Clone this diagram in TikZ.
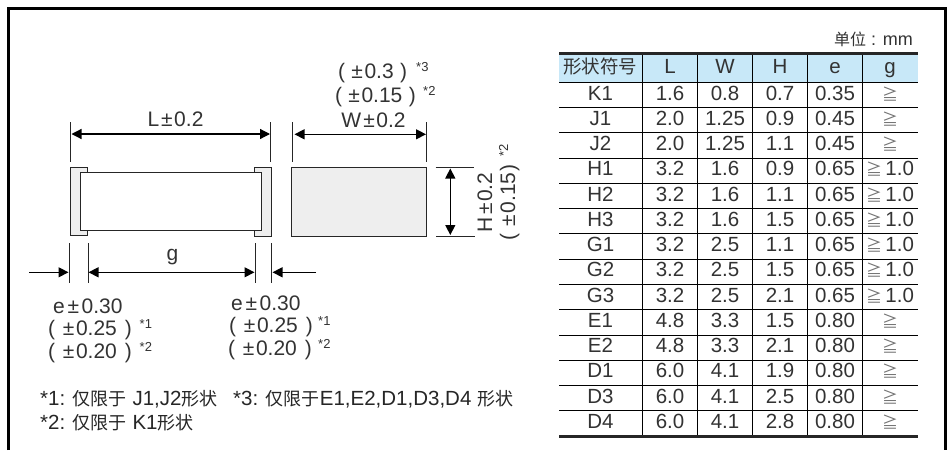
\documentclass[tikz,border=0pt]{standalone}
\usepackage{fontspec}
\setmainfont{Liberation Sans}
\newfontfamily\cjk{Noto Sans CJK SC}
\usetikzlibrary{arrows.meta}
\definecolor{txt}{HTML}{333333}
\definecolor{capfill}{HTML}{EEEEEE}
\definecolor{head}{HTML}{C8E8F8}
\newcommand{\fs}[1]{\fontsize{#1}{#1}\selectfont}
\newcommand{\geA}{{\cjk\fs{16}\color{black!55}≧}}
\newcommand{\geB}{{\cjk\fs{16}\color{black!55}≧}\,1.0}
\newcommand{\pmn}[1]{±\kern1.5pt #1}
\newcommand{\cj}[1]{{\cjk\fs{18}#1}}
\tikzset{
  x=1pt,y=-1pt,
  part/.style={draw=black!85,line width=1pt,fill=capfill},
  body/.style={draw=black!85,line width=1pt,fill=white},
  ext/.style={draw=black!85,line width=0.8pt},
  dim/.style={draw=black,line width=1.2pt,{Triangle[length=10pt,width=10pt]}-{Triangle[length=10pt,width=10pt]}},
  dimin/.style={draw=black,line width=1.2pt,-{Triangle[length=10pt,width=10pt]}},
  lab/.style={inner sep=0pt,outer sep=0pt,text=txt,font=\fs{21},anchor=base},
  labw/.style={lab,anchor=base west},
  sm/.style={inner sep=0pt,text=txt,font=\fs{13},anchor=base west},
  note/.style={inner sep=0pt,text=black!85,font=\fs{20.5},anchor=base west},
  cell/.style={inner sep=0pt,text=txt,font=\fs{20.5},anchor=base},
  grid/.style={draw=black,line width=0.9pt},
  thick rule/.style={draw=black!85,line width=3pt},
}
\begin{document}
\begin{tikzpicture}
\useasboundingbox (0,0) rectangle (952,450);
\fill[white] (0,0) rectangle (952,450);
% frame
\draw[black,line width=3pt] (8.5,450) -- (8.5,8.5) -- (945,8.5) -- (945,450);

% front view
\draw[part] (70.3,167) rectangle (87.7,235.7);
\draw[part] (254,167.7) rectangle (271.3,236.3);
\draw[body] (80.3,172.7) rectangle (261.3,230.3);
% side view
\draw[part] (291.7,167.3) rectangle (426.7,236);

% extension lines
\draw[ext] (70.7,122) -- (70.7,162);
\draw[ext] (270.7,122) -- (270.7,162);
\draw[ext] (292.7,122) -- (292.7,162);
\draw[ext] (426.7,122) -- (426.7,162);
\draw[ext] (435.7,167.3) -- (474,167.3);
\draw[ext] (436,236.7) -- (474.7,236.7);
\draw[ext] (69,243) -- (69,283);
\draw[ext] (88,243) -- (88,283);
\draw[ext] (255,243) -- (255,283);
\draw[ext] (271,243) -- (271,283);

% dimension arrows
\draw[dim] (71.5,134) -- (270,134);
\draw[dim] (294.5,134.3) -- (426,134.3);
\draw[dim] (450.3,168.5) -- (450.3,235);
\draw[dim] (88.5,272.3) -- (254.5,272.3);
\draw[dimin] (29,272.3) -- (68.5,272.3);
\draw[dimin] (316,272.3) -- (272.5,272.3);

% dimension labels
\node[lab] (lL) at (175.5,126) {L\kern2pt\pmn{0.2}};
\node[lab] (lW) at (373.5,127) {W\kern2pt\pmn{0.2}};
\node[labw] (lW2) at (335,102) {(\kern6.5pt\pmn{0.15}\kern6.5pt)};
\node[sm] (sW2) at (423,95) {*2};
\node[labw] (lW3) at (338,78) {(\kern6.5pt\pmn{0.3}\kern6.5pt)};
\node[sm] (sW3) at (416,71) {*3};
\node[lab] (lg) at (172.5,260) {g};

\node[labw,rotate=90] (lH) at (492,232) {H\kern2pt\pmn{0.2}};
\node[labw,rotate=90] (lH2) at (515,240) {(\kern6.5pt\pmn{0.15}\kern1pt)};
\node[sm,rotate=90] (sH2) at (508,157) {*2};

\node[labw] (e1a) at (53,313) {e\kern3pt±\kern2.5pt 0.30};
\node[labw] (e1b) at (48,335) {(\kern8pt\pmn{0.25}\kern8pt)};
\node[sm] (e1c) at (139.5,328) {*1};
\node[labw] (e1d) at (48,358) {(\kern8pt\pmn{0.20}\kern8pt)};
\node[sm] (e1e) at (139.5,351) {*2};

\node[labw] (e2a) at (231,310) {e\kern3pt±\kern2.5pt 0.30};
\node[labw] (e2b) at (229,332) {(\kern8pt\pmn{0.25}\kern8pt)};
\node[sm] (e2c) at (318,325) {*1};
\node[labw] (e2d) at (228,355) {(\kern8pt\pmn{0.20}\kern8pt)};
\node[sm] (e2e) at (318,348) {*2};

% notes
\node[note] (n1) at (40,405) {*1: \cj{仅限于} J1,J2\cj{形状}};
\node[note] (n3) at (233,405) {*3: \cj{仅限于}E1,E2,D1,D3,D4 \cj{形状}};
\node[note] (n2) at (40,429) {*2: \cj{仅限于} K1\cj{形状}};

% unit
\node[inner sep=0pt,text=txt,font=\fs{18},anchor=base east] (unit) at (913,45) {{\cjk\fs{16} 单位} : mm};

% table
\fill[head] (559,54) rectangle (918,82.3);
\foreach \yy in {82.3,107.3,132.3,158,183.3,208.3,233.3,259,284.3,309.3,335,360,385,410.3}
  \draw[grid] (559,\yy) -- (918,\yy);
\foreach \xx in {642.3,697.3,752.3,807.3,862.3}
  \draw[grid] (\xx,54) -- (\xx,436);
\draw[thick rule] (559,53.3) -- (918,53.3);
\draw[thick rule] (559,436.7) -- (918,436.7);

\node[cell] (h0) at (600,73.3) {\cjk\fs{18.5}形状符号};
\node[cell] (h1) at (670,73.3) {L};
\node[cell] (h2) at (725,73.3) {W};
\node[cell] (h3) at (780,73.3) {H};
\node[cell] (h4) at (835,73.3) {e};
\node[cell] (h5) at (890,73.3) {g};

\foreach \nm/\l/\w/\h/\e/\g/\yb [count=\i] in {
  K1/1.6/0.8/0.7/0.35/\geA/100,
  J1/2.0/1.25/0.9/0.45/\geA/125.3,
  J2/2.0/1.25/1.1/0.45/\geA/150.5,
  H1/3.2/1.6/0.9/0.65/\geB/175.8,
  H2/3.2/1.6/1.1/0.65/\geB/201,
  H3/3.2/1.6/1.5/0.65/\geB/226.3,
  G1/3.2/2.5/1.1/0.65/\geB/251.5,
  G2/3.2/2.5/1.5/0.65/\geB/276.8,
  G3/3.2/2.5/2.1/0.65/\geB/302,
  E1/4.8/3.3/1.5/0.80/\geA/327.3,
  E2/4.8/3.3/2.1/0.80/\geA/352.5,
  D1/6.0/4.1/1.9/0.80/\geA/377.8,
  D3/6.0/4.1/2.5/0.80/\geA/403,
  D4/6.0/4.1/2.8/0.80/\geA/428.3}
{
  \node[cell] (r\i a) at (600.5,\yb) {\nm};
  \node[cell] (r\i b) at (670,\yb) {\l};
  \node[cell] (r\i c) at (725,\yb) {\w};
  \node[cell] (r\i d) at (780,\yb) {\h};
  \node[cell] (r\i e) at (835,\yb) {\e};
  \node[cell] (r\i f) at (890,\yb) {\g};
}
\end{tikzpicture}
\end{document}
